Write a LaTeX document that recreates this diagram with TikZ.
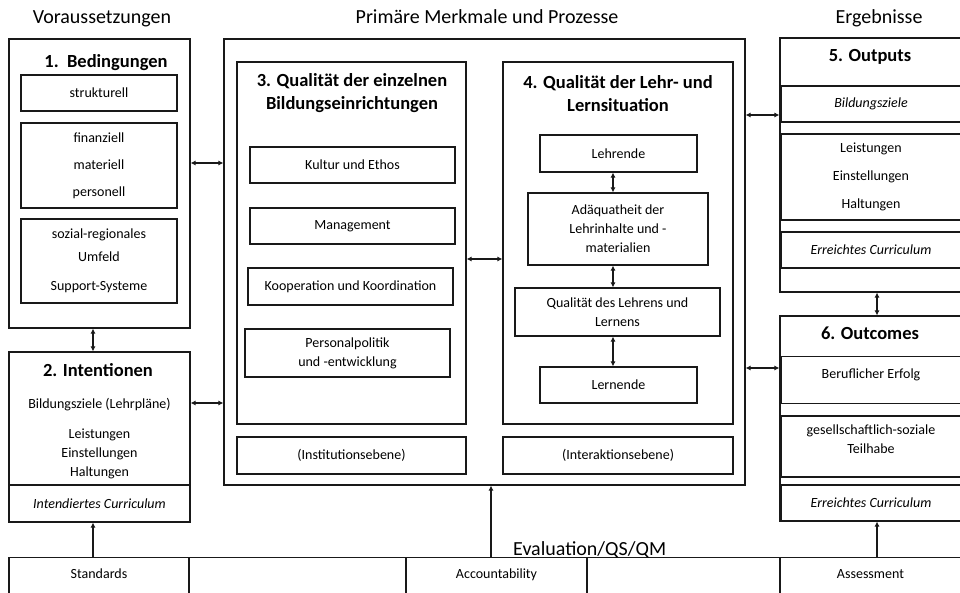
\documentclass[tikz,border=0pt]{standalone}
\usepackage{fontspec}
\setmainfont{Carlito}
\usetikzlibrary{arrows.meta}

\newcommand\titlefont{\fontsize{20}{24}\selectfont}
\newcommand\headfont{\fontsize{18.5}{23}\selectfont\bfseries}
\newcommand\bodyfont{\fontsize{14}{19}\selectfont}

\begin{document}
\begin{tikzpicture}[
    x=1pt, y=-1pt,
    panel/.style={rectangle, draw=black!90, line width=1.1pt, inner sep=0pt},
    cell/.style={rectangle, draw=black!90, line width=1.1pt, inner sep=0pt, align=center, font=\bodyfont},
    foot/.style={cell, anchor=north, text height=21pt, text depth=32pt},
    head/.style={align=center, font=\headfont},
    txt/.style={align=center, font=\bodyfont},
    title/.style={anchor=base, font=\titlefont},
    dbl/.style={{Latex[length=5pt,width=5pt]}-{Latex[length=5pt,width=5pt]}, draw=black!90, line width=1.1pt},
    up/.style={-{Latex[length=5pt,width=5pt]}, draw=black!90, line width=1.1pt}
]
\fill[white] (0,0) rectangle (960,593);
\useasboundingbox (0,0) rectangle (960,593);
\clip (0,0) rectangle (960,593);

% Spaltentitel
\node[title] (tvor) at (102,24) {Voraussetzungen};
\node[title] (tprim) at (487,24) {Primäre Merkmale und Prozesse};
\node[title] (terg) at (879,24) {Ergebnisse};

% 1. Bedingungen
\node[panel, minimum width=181pt, minimum height=289pt] (bed) at (99.5,183.5) {};
\node[head] (bedhead) at (106,63) {1.\ \ Bedingungen};
\node[cell, minimum width=156pt, minimum height=36pt] (strukt) at (99,93) {strukturell};
\node[cell, minimum width=156pt, minimum height=85pt] (finanz) at (99,165.5) {finanziell\\[8pt]materiell\\[8pt]personell};
\node[cell, minimum width=156pt, minimum height=84pt] (sozial) at (99,261) {sozial-regionales\\[4pt]Umfeld\\[10pt]Support-Systeme};

% 2. Intentionen
\node[panel, minimum width=181pt, minimum height=170pt] (intent) at (99.5,437) {};
\node[head] (inthead) at (98,370) {2. Intentionen};
\node[txt] (intziel) at (99.5,405) {Bildungsziele (Lehrpläne)};
\node[txt] (intleist) at (99.5,454) {Leistungen\\Einstellungen\\Haltungen};
\node[cell, minimum width=181pt, minimum height=37pt, font=\bodyfont\itshape] (intcurr) at (99.5,503.5) {Intendiertes Curriculum};

% Primäre Merkmale und Prozesse
\node[panel, minimum width=521pt, minimum height=446pt] (proz) at (484.5,262) {};

% 3. Qualität der einzelnen Bildungseinrichtungen
\node[panel, minimum width=229pt, minimum height=362pt] (qual3) at (351.5,243) {};
\node[head] (q3head) at (352,93.5) {3. Qualität der einzelnen\\Bildungseinrichtungen};
\node[cell, minimum width=205pt, minimum height=36pt] (kultur) at (352.5,165) {Kultur und Ethos};
\node[cell, minimum width=205pt, minimum height=36pt] (mgmt) at (352.5,226) {Management};
\node[cell, minimum width=205pt, minimum height=37pt] (koop) at (350.5,286.5) {Kooperation und Koordination};
\node[cell, minimum width=205pt, minimum height=48pt] (pers) at (347.5,353) {Personalpolitik\\und -entwicklung};
\node[cell, minimum width=229pt, minimum height=37pt] (inst) at (351.5,455.5) {(Institutionsebene)};

% 4. Qualität der Lehr- und Lernsituation
\node[panel, minimum width=230pt, minimum height=362pt] (qual4) at (618,243) {};
\node[head] (q4head) at (618,93.5) {4. Qualität der Lehr- und\\Lernsituation};
\node[cell, minimum width=157pt, minimum height=37pt] (lehrende) at (618.5,153.5) {Lehrende};
\node[cell, minimum width=180pt, minimum height=72pt] (adaeq) at (618,229) {Adäquatheit der\\Lehrinhalte und -\\materialien};
\node[cell, minimum width=205pt, minimum height=48pt] (qlehr) at (617.5,312) {Qualität des Lehrens und\\Lernens};
\node[cell, minimum width=157pt, minimum height=36pt] (lernende) at (618.5,385) {Lernende};
\node[cell, minimum width=230pt, minimum height=37pt] (inter) at (618,455.5) {(Interaktionsebene)};

% 5. Outputs
\node[panel, minimum width=181pt, minimum height=254pt] (outp) at (870.5,165) {};
\node[head] (outhead) at (870,57) {5. Outputs};
\node[cell, minimum width=180pt, minimum height=36pt, font=\bodyfont\itshape] (outziel) at (871,104) {Bildungsziele};
\node[cell, minimum width=180pt, minimum height=86pt] (outleist) at (871,177) {Leistungen\\[9pt]Einstellungen\\[9pt]Haltungen};
\node[cell, minimum width=180pt, minimum height=36pt, font=\bodyfont\itshape] (outcurr) at (871,250) {Erreichtes Curriculum};

% 6. Outcomes
\node[panel, minimum width=181pt, minimum height=205pt] (outc) at (870.5,418.5) {};
\node[head] (outchead) at (870,333) {6. Outcomes};
\node[cell, anchor=north, minimum width=180pt, text height=21.5pt, text depth=25.5pt] (beruf) at (871,356) {Beruflicher Erfolg};
\node[cell, minimum width=180pt, minimum height=61pt] (gesell) at (871,446.5) {gesellschaftlich-soziale\\Teilhabe\\[-5pt]};
\node[cell, minimum width=180pt, minimum height=36pt, font=\bodyfont\itshape] (outccurr) at (871,503) {Erreichtes Curriculum};

% Evaluation/QS/QM
\node[panel, anchor=north west, minimum width=961pt, minimum height=53pt] (band) at (9,557) {};
\node[foot, minimum width=180pt] (std) at (99,557) {Standards};
\node[foot, minimum width=181pt] (acc) at (496.5,557) {Accountability};
\node[foot, minimum width=181pt] (assess) at (870.5,557) {Assessment};
\node[anchor=base west, font=\titlefont, inner sep=0pt] (eval) at (513,555) {Evaluation/QS/QM};

% Pfeile
\draw[dbl] ([xshift=-6.5pt]bed.south) -- ([xshift=-6.5pt]intent.north);
\draw[dbl] ([yshift=20.5pt]bed.east) -- ([yshift=20.5pt]bed.east -| proz.west);
\draw[dbl] ([yshift=34pt]intent.east) -- ([yshift=34pt]intent.east -| proz.west);
\draw[dbl] ([yshift=-16pt]qual3.east) -- ([yshift=-16pt]qual3.east -| qual4.west);
\draw[dbl] ([xshift=-5.5pt]lehrende.south) -- ([xshift=-5.5pt]lehrende.south |- adaeq.north);
\draw[dbl] ([xshift=-5pt]adaeq.south) -- ([xshift=-5pt]adaeq.south |- qlehr.north);
\draw[dbl] ([xshift=-4.5pt]qlehr.south) -- ([xshift=-4.5pt]qlehr.south |- lernende.north);
\draw[dbl] ([yshift=50pt]outp.west -| proz.east) -- ([yshift=50pt]outp.west);
\draw[dbl] ([yshift=50.5pt]outc.west -| proz.east) -- ([yshift=50.5pt]outc.west);
\draw[dbl] ([xshift=6.5pt]outp.south) -- ([xshift=6.5pt]outc.north);
\draw[up] ([xshift=-6pt]std.north) -- ([xshift=-6pt]std.north |- intcurr.south);
\draw[up] ([xshift=-5.5pt]acc.north) -- ([xshift=-5.5pt]acc.north |- proz.south);
\draw[up] ([xshift=6.5pt]assess.north) -- ([xshift=6.5pt]assess.north |- outccurr.south);

\end{tikzpicture}
\end{document}
